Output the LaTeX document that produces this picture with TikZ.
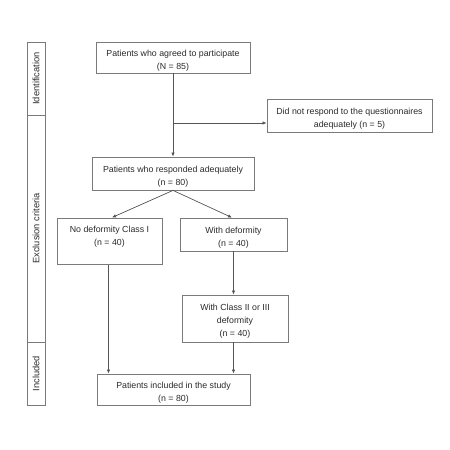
\documentclass[tikz,border=0pt]{standalone}
\usepackage{fontspec}
\setmainfont{Liberation Sans}
\usetikzlibrary{arrows.meta,calc}
\definecolor{linegray}{HTML}{555555}
\definecolor{boxgray}{HTML}{7A7A7A}
\definecolor{txtgray}{HTML}{2A2A2A}
\newcommand\toppad{\rule{0pt}{12.3pt}}
\begin{document}
\begin{tikzpicture}[x=1pt,y=-1pt,
  box/.style={draw=boxgray,line width=0.8pt,align=center,inner sep=2pt,
    text=txtgray,font=\fontsize{8.8}{13}\selectfont},
  side/.style={draw=boxgray,line width=0.8pt},
  sidelabel/.style={rotate=90,text=txtgray,font=\fontsize{9.3}{10}\selectfont},
  arr/.style={draw=linegray,line width=0.7pt,-{Latex[length=4pt,width=3.4pt]}}]
\useasboundingbox (0,0) rectangle (450,450);
% side bar
\node[side,minimum width=18,minimum height=73,inner sep=0] (sb1) at (36,78.5) {};
\node[side,minimum width=18,minimum height=227,inner sep=0] (sb2) at (36,228.5) {};
\node[side,minimum width=18,minimum height=63,inner sep=0] (sb3) at (36,373.5) {};
\node[sidelabel] (l1) at (sb1.center) {Identification};
\node[sidelabel] (l2) at (sb2.center) {Exclusion criteria};
\node[sidelabel] (l3) at (sb3.center) {Included};
% boxes
\node[box,minimum width=154,minimum height=31] (b1) at (173,57.5) {\toppad Patients who agreed to participate\\(N = 85)};
\node[box,minimum width=165,minimum height=33] (ex) at (349.5,115.5) {\toppad Did not respond to the questionnaires\\adequately (n = 5)};
\node[box,minimum width=162,minimum height=33] (b2) at (173,173.5) {\toppad Patients who responded adequately\\(n = 80)};
\node[box,minimum width=105,minimum height=46] (b3) at (109.5,241) {\toppad No deformity Class I\\(n = 40)\\\strut};
\node[box,minimum width=107,minimum height=33] (b4) at (233.5,234.5) {\toppad With deformity\\(n = 40)};
\node[box,minimum width=106,minimum height=47] (b5) at (235,318.5) {\toppad With Class II or III\\deformity\\(n = 40)};
\node[box,minimum width=153,minimum height=31] (b6) at (173.5,389.5) {\toppad Patients included in the study\\(n = 80)};
% connectors
\coordinate (br) at (173,123);
\draw[arr] (b1.south) -- (b2.north);
\draw[arr] (br) -- (br -| ex.west);
\draw[arr] (b2.south) -- ($(b3.north)+(2.5,0)$);
\draw[arr] (b2.south) -- ($(b4.north)+(-1.5,0)$);
\draw[arr] ($(b3.south)+(-1,0)$) -- ($(b3.south |- b6.north)+(-1,0)$);
\draw[arr] (b4.south) -- (b4.south |- b5.north);
\draw[arr] ($(b5.south)+(-1.5,0)$) -- ($(b5.south |- b6.north)+(-1.5,0)$);
\end{tikzpicture}
\end{document}
